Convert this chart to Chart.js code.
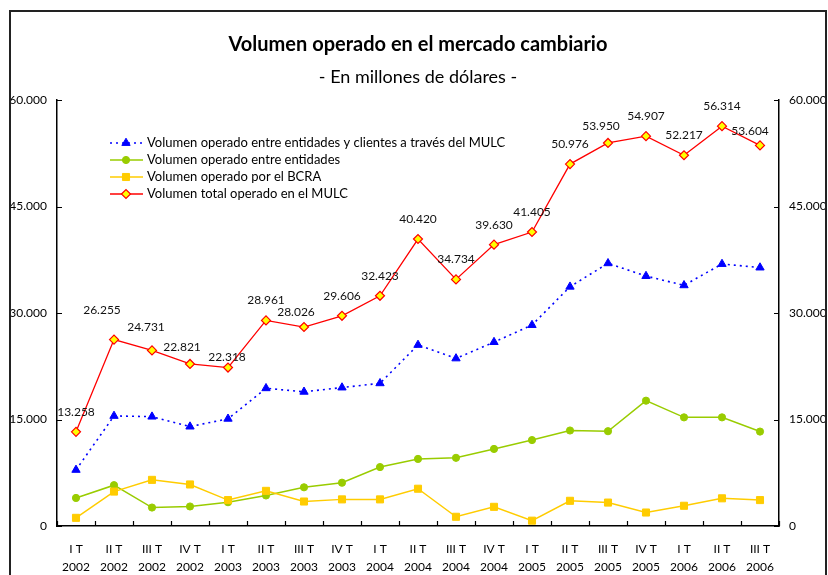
<!DOCTYPE html>
<html>
<head>
<meta charset="utf-8">
<title>Volumen operado en el mercado cambiario</title>
<script src="https://cdn.jsdelivr.net/npm/chart.js@4.4.1/dist/chart.umd.min.js"></script>
<style>
  html, body { margin: 0; padding: 0; background: #fff; overflow: hidden; }
  .wrap { position: relative; width: 828px; height: 575px; }
  .frame { position: absolute; left: 9px; top: 10px; width: 814px; height: 600px; border: 2px solid #222; border-bottom: none; pointer-events: none; }
  canvas { position: absolute; left: 0; top: 0; }
</style>
</head>
<body>
<div class="wrap">
  <canvas class="js-mulc" width="828" height="575"></canvas>
  <div class="frame"></div>
</div>
<script>
const quarters = ["I T", "II T", "III T", "IV T", "I T", "II T", "III T", "IV T", "I T", "II T", "III T", "IV T", "I T", "II T", "III T", "IV T", "I T", "II T", "III T"];
const years = ["2002", "2002", "2002", "2002", "2003", "2003", "2003", "2003", "2004", "2004", "2004", "2004", "2005", "2005", "2005", "2005", "2006", "2006", "2006"];

// millones de dólares
const entidadesClientes = [7900, 15500, 15400, 14000, 15100, 19400, 18900, 19500, 20100, 25500, 23600, 25900, 28300, 33700, 37000, 35200, 33900, 36900, 36400];
const entreEntidades = [3950, 5750, 2600, 2750, 3350, 4300, 5450, 6100, 8300, 9450, 9600, 10850, 12100, 13450, 13350, 17650, 15300, 15300, 13300];
const bcra = [1150, 4850, 6500, 5850, 3650, 4950, 3450, 3750, 3750, 5250, 1300, 2700, 750, 3550, 3300, 1900, 2850, 3900, 3650];
const totalMulc = [13258, 26255, 24731, 22821, 22318, 28961, 28026, 29606, 32423, 40420, 34734, 39630, 41405, 50976, 53950, 54907, 52217, 56314, 53604];

const yTicks = [0, 15000, 30000, 45000, 60000];

// small shifts of the value labels, like the original (px, relative to default spot)
const labelNudge = { 1: [-12, -9], 2: [-6, -3], 3: [-8, 3], 4: [-1, 10], 6: [-8, 5], 14: [-7, 3], 18: [-10, 6] };

const FONT = "Lato, 'Noto Sans', sans-serif";

const fmt = function (v) {
  return String(v).replace(/\B(?=(\d{3})+(?!\d))/g, ".");
};

const titles = {
  id: "titles",
  afterDraw(chart) {
    const ctx = chart.ctx;
    ctx.save();
    ctx.fillStyle = "#000";
    ctx.textAlign = "center";
    ctx.textBaseline = "middle";
    ctx.font = "bold 20px " + FONT;
    ctx.fillText("Volumen operado en el mercado cambiario", 418, 45);
    ctx.font = "18px " + FONT;
    ctx.fillText("- En millones de dólares -", 418, 77);
    ctx.restore();
  },
};

// tick marks pointing into the plot
const innerTicks = {
  id: "innerTicks",
  afterDraw(chart) {
    const { ctx, chartArea: a, scales } = chart;
    ctx.save();
    ctx.strokeStyle = "#000";
    ctx.lineWidth = 1.2;
    ctx.beginPath();
    scales.y.ticks.forEach((t, i) => {
      const py = Math.round(scales.y.getPixelForTick(i)) + 0.5;
      ctx.moveTo(a.left, py);
      ctx.lineTo(a.left + 5, py);
    });
    scales.y2.ticks.forEach((t, i) => {
      const py = Math.round(scales.y2.getPixelForTick(i)) + 0.5;
      ctx.moveTo(a.right, py);
      ctx.lineTo(a.right - 5, py);
    });
    for (let i = 0; i <= quarters.length; i++) {
      const px = Math.round(scales.x.getPixelForValue(i - 0.5)) + 0.5;
      ctx.moveTo(px, a.bottom);
      ctx.lineTo(px, a.bottom - 5);
    }
    ctx.stroke();
    ctx.restore();
  },
};

const totalLabels = {
  id: "totalLabels",
  afterDatasetsDraw(chart) {
    const ctx = chart.ctx;
    const meta = chart.getDatasetMeta(3);
    ctx.save();
    ctx.fillStyle = "#111";
    ctx.font = "12px " + FONT;
    ctx.textAlign = "center";
    ctx.textBaseline = "middle";
    meta.data.forEach((pt, i) => {
      const n = labelNudge[i] || [0, 0];
      ctx.fillText(fmt(totalMulc[i]), pt.x + n[0], pt.y - 20 + n[1]);
    });
    ctx.restore();
  },
};

const boxLegend = {
  id: "boxLegend",
  afterDraw(chart) {
    const ctx = chart.ctx;
    ctx.save();
    ctx.font = "13px " + FONT;
    ctx.textBaseline = "middle";
    chart.data.datasets.forEach((ds, i) => {
      const y = 143 + i * 17;
      ctx.strokeStyle = ds.borderColor;
      ctx.lineWidth = ds.borderWidth;
      ctx.setLineDash(ds.borderDash || []);
      ctx.beginPath();
      ctx.moveTo(110, y);
      ctx.lineTo(143, y);
      ctx.stroke();
      ctx.setLineDash([]);
      ctx.fillStyle = ds.pointBackgroundColor;
      ctx.strokeStyle = ds.pointBorderColor;
      ctx.lineWidth = ds.pointBorderWidth;
      Chart.helpers.drawPoint(ctx, { pointStyle: ds.pointStyle, radius: ds.pointRadius, rotation: 0, borderWidth: ds.pointBorderWidth }, 126, y);
      ctx.fillStyle = "#000";
      ctx.fillText(ds.label, 147, y);
    });
    ctx.restore();
  },
};

const chartMulc = function () {
  const el = document.querySelector(".js-mulc");

  new Chart(el, {
    type: "line",
    data: {
      labels: quarters.map((q, i) => [q, years[i]]),
      datasets: [
        {
          label: "Volumen operado entre entidades y clientes a través del MULC",
          data: entidadesClientes,
          borderColor: "#0000FF",
          borderWidth: 1.6,
          borderDash: [2, 4],
          pointStyle: "triangle",
          pointRadius: 4.8,
          pointBackgroundColor: "#0000FF",
          pointBorderColor: "#0000FF",
          pointBorderWidth: 1,
          order: 3,
        },
        {
          label: "Volumen operado entre entidades",
          data: entreEntidades,
          borderColor: "#99CC00",
          borderWidth: 1.5,
          pointStyle: "circle",
          pointRadius: 3.6,
          pointBackgroundColor: "#99CC00",
          pointBorderColor: "#99CC00",
          pointBorderWidth: 1,
          order: 2,
        },
        {
          label: "Volumen operado por el BCRA",
          data: bcra,
          borderColor: "#FFCC00",
          borderWidth: 1.5,
          pointStyle: "rect",
          pointRadius: 5,
          pointBackgroundColor: "#FFCC00",
          pointBorderColor: "#FFCC00",
          pointBorderWidth: 1,
          order: 1,
        },
        {
          label: "Volumen total operado en el MULC",
          data: totalMulc,
          borderColor: "#FF0000",
          borderWidth: 1.3,
          pointStyle: "rectRot",
          pointRadius: 4.5,
          pointBackgroundColor: "#FFFF00",
          pointBorderColor: "#FF0000",
          pointBorderWidth: 1.2,
          order: 0,
        },
      ],
    },
    options: {
      responsive: false,
      devicePixelRatio: 1,
      animation: false,
      layout: { padding: { top: 100, left: 0, right: 0, bottom: 0 } },
      elements: { line: { tension: 0 } },
      scales: {
        x: {
          offset: true,
          grid: { display: false, drawTicks: false, offset: true },
          border: { color: "#000", width: 1.5 },
          ticks: {
            color: "#000",
            font: { family: FONT, size: 12, lineHeight: 1.5 },
            padding: 14,
            maxRotation: 0,
            autoSkip: false,
          },
          afterFit(s) { s.height = 49; },
        },
        y: {
          position: "left",
          min: 0,
          max: 60000,
          afterBuildTicks(s) { s.ticks = yTicks.map((v) => ({ value: v })); },
          grid: { display: false, drawTicks: false },
          border: { color: "#000", width: 1.5 },
          ticks: {
            color: "#000",
            font: { family: FONT, size: 12 },
            padding: 10,
            callback: (v) => fmt(v),
          },
          afterFit(s) { s.width = 57; },
        },
        y2: {
          position: "right",
          min: 0,
          max: 60000,
          afterBuildTicks(s) { s.ticks = yTicks.map((v) => ({ value: v })); },
          grid: { display: false, drawTicks: false },
          border: { color: "#000", width: 1.5 },
          ticks: {
            color: "#000",
            font: { family: FONT, size: 12 },
            padding: 10,
            callback: (v) => fmt(v),
          },
          afterFit(s) { s.width = 49; },
        },
      },
      plugins: {
        legend: { display: false },
        tooltip: { enabled: false },
        title: { display: false },
      },
    },
    plugins: [titles, innerTicks, totalLabels, boxLegend],
  });
};

const init = function () {
  chartMulc();
};

document.addEventListener("DOMContentLoaded", init);
</script>
</body>
</html>
